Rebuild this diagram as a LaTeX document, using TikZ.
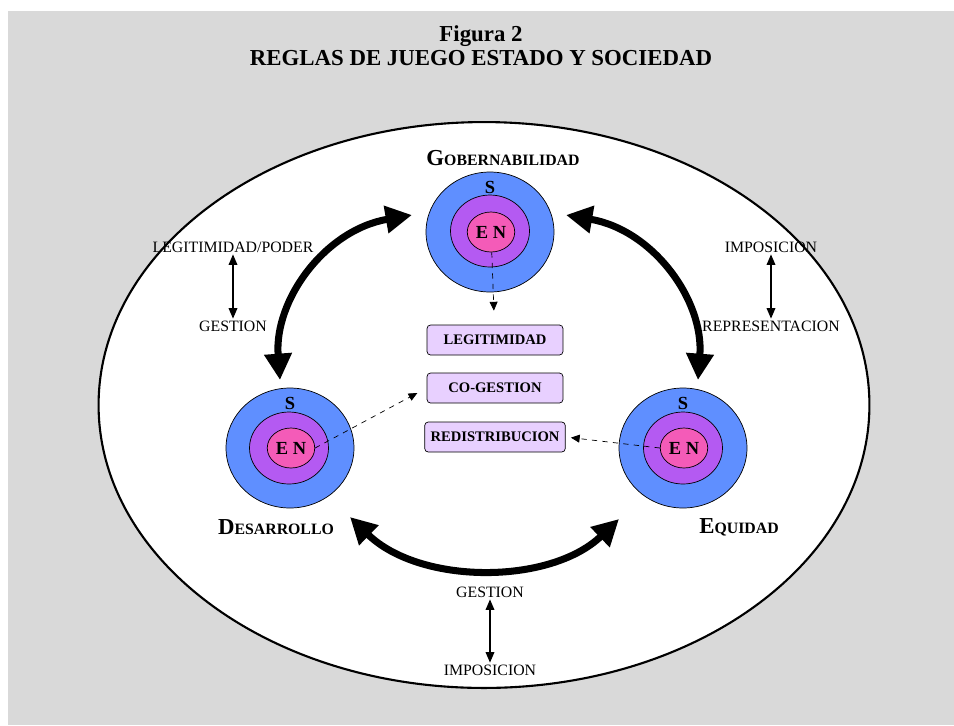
\documentclass[tikz,border=0pt]{standalone}
\usepackage{fontspec}
\setmainfont{Liberation Serif}
\usetikzlibrary{arrows.meta}
\usetikzlibrary{shapes.geometric}
\definecolor{panelgray}{RGB}{217,217,217}
\definecolor{socblue}{RGB}{95,143,255}
\definecolor{estpurple}{RGB}{180,90,242}
\definecolor{nucpink}{RGB}{244,91,184}
\definecolor{boxlilac}{RGB}{232,208,255}
\newcommand{\capsname}[2]{\textbf{{\fontsize{13}{15}\selectfont #1}{\fontsize{9}{11}\selectfont #2}}}
\tikzset{
	soc/.style={
		draw,
		ellipse,
		fill=socblue,
		inner sep=0pt,
		minimum width=2.56cm,
		minimum height=2.4cm,
	},
	est/.style={
		draw,
		ellipse,
		fill=estpurple,
		inner sep=0pt,
		minimum width=1.58cm,
		minimum height=1.44cm,
	},
	nuc/.style={
		draw,
		ellipse,
		fill=nucpink,
		inner sep=0pt,
		minimum width=0.95cm,
		minimum height=0.8cm,
		font=\fontsize{10.5}{12}\selectfont\bfseries,
	},
	slabel/.style={font=\fontsize{10.5}{12}\selectfont\bfseries},
	rulebox/.style={
		draw,
		rectangle,
		rounded corners=2pt,
		fill=boxlilac,
		minimum width=2.72cm,
		minimum height=0.6cm,
		font=\fontsize{8.3}{10}\selectfont\bfseries,
	},
	lbl/.style={font=\fontsize{9}{11}\selectfont, inner sep=1pt},
	bigarc/.style={
		line width=4pt,
		{Triangle[length=15pt,width=15pt]}-{Triangle[length=15pt,width=15pt]}
	},
	pull/.style={
		semithick,
		{Triangle[length=6pt,width=5pt]}-{Triangle[length=6pt,width=5pt]}
	},
	flow/.style={
		dashed,
		-{Triangle[length=5pt,width=4.5pt]}
	},
}

\begin{document}
\begin{tikzpicture}[x=0.02cm, y=-0.02cm]
	\useasboundingbox (0,0) rectangle (954,725);
	\fill[panelgray] (8,11) rectangle (954,725);

	\node[align=center, font=\fontsize{13}{13.5}\selectfont\bfseries] (titulo) at (481,46)
		{Figura 2\\REGLAS DE JUEGO ESTADO Y SOCIEDAD};

	\node[draw, ellipse, line width=1.2pt, fill=white, minimum width=15.42cm, minimum height=11.32cm] (sociedad) at (484,405) {};

	% tres esferas
	\node[soc] (gobS) at (490,232) {};
	\node[est] (gobE) at (490,231) {};
	\node[nuc] (gobN) at (491,232) {E N};
	\node[slabel] (gobs) at (490,187) {S};
	\node (gobname) at (503,158) {\capsname{G}{OBERNABILIDAD}};

	\node[soc] (desS) at (290,448) {};
	\node[est] (desE) at (289,448) {};
	\node[nuc] (desN) at (291,448) {E N};
	\node[slabel] (dess) at (290,403) {S};
	\node (desname) at (276,527) {\capsname{D}{ESARROLLO}};

	\node[soc] (equS) at (683,448) {};
	\node[est] (equE) at (683,448) {};
	\node[nuc] (equN) at (684,448) {E N};
	\node[slabel] (equs) at (683,403) {S};
	\node (equname) at (739,527) {\capsname{E}{QUIDAD}};

	\node[rulebox] (legit) at (495,340) {LEGITIMIDAD};
	\node[rulebox] (coges) at (495,388) {CO-GESTION};
	\node[rulebox] (redis) at (495,437) {REDISTRIBUCION};

	\draw[flow, shorten >=8pt] (gobN) -- (legit);
	\draw[flow, shorten >=6pt] (desN.east) -- (coges.west);
	\draw[flow, shorten >=3pt] (equN.west) -- (redis.east);

	% relaciones
	\coordinate (a1) at (412,215);
	\coordinate (a2) at (280,380);
	\coordinate (b1) at (566,215);
	\coordinate (b2) at (698,380);
	\coordinate (c1) at (350,517);
	\coordinate (c2) at (619,519);
	\draw[bigarc] (a1) .. controls (325,230) and (274,300) .. (a2);
	\draw[bigarc] (b1) .. controls (653,230) and (704,300) .. (b2);
	\draw[bigarc] (c1) .. controls (420,585) and (550,585) .. (c2);

	\node[lbl] (legpod) at (233,247) {LEGITIMIDAD/PODER};
	\node[lbl] (gesizq) at (233,326) {GESTION};
	\draw[pull] (legpod) -- (gesizq);

	\node[lbl] (impder) at (771,247) {IMPOSICION};
	\node[lbl] (repder) at (771,326) {REPRESENTACION};
	\draw[pull] (impder) -- (repder);

	\node[lbl] (gesabj) at (490,592) {GESTION};
	\node[lbl] (impabj) at (490,670) {IMPOSICION};
	\draw[pull] (gesabj) -- (impabj);
\end{tikzpicture}
\end{document}
